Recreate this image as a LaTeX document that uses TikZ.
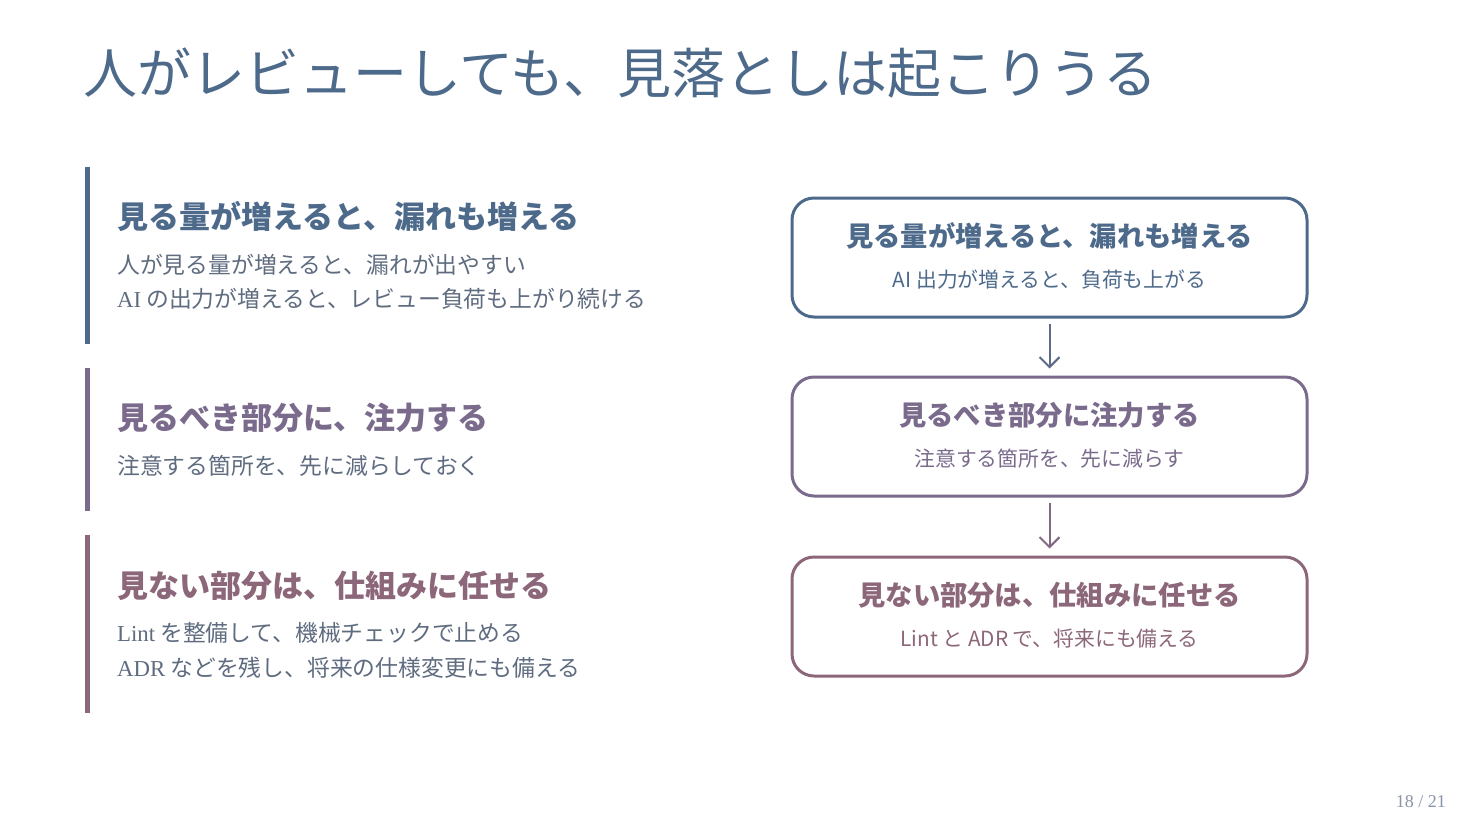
\documentclass[tikz,border=0pt]{standalone}
\usepackage{fontspec}
\newfontfamily\cjk{Noto Sans CJK JP}
\newfontfamily\serif{Liberation Serif}
\definecolor{cblue}{HTML}{4D6A8B}
\definecolor{cpurp}{HTML}{7A6B8C}
\definecolor{cmauv}{HTML}{8C6679}
\definecolor{cbody}{HTML}{5F6C80}
\definecolor{cpage}{HTML}{8A93A8}
\usetikzlibrary{arrows.meta}
\begin{document}
\begin{tikzpicture}[x=1pt,y=-1pt,
  head/.style={anchor=west,inner sep=0pt,font=\cjk\bfseries\fontsize{31}{31}\selectfont},
  body/.style={anchor=west,inner sep=0pt,text=cbody,font=\cjk\fontsize{22.8}{22.8}\selectfont},
  bar/.style={line width=5pt},
  card/.style={draw,line width=3pt,rounded corners=22pt,minimum width=515pt,minimum height=119pt,inner sep=0pt},
  bhead/.style={inner sep=0pt,font=\cjk\bfseries\fontsize{27.3}{27.3}\selectfont},
  bsub/.style={inner sep=0pt,font=\cjk\fontsize{20.8}{20.8}\selectfont},
  flow/.style={line width=2pt,-{Straight Barb[length=10pt,width=20pt,line width=2pt]}}]
\useasboundingbox (0,0) rectangle (1470,828);
\fill[white] (0,0) rectangle (1470,828);
% title
\node[anchor=west,inner sep=0pt,text=cblue,font=\cjk\fontsize{54}{54}\selectfont] (title) at (83,73) {人がレビューしても、見落としは起こりうる};
% left column
\coordinate (b1t) at (87,167); \coordinate (b1b) at (87,344);
\draw[bar,cblue] (b1t) -- (b1b);
\node[head,text=cblue] (h1) at (117,216) {見る量が増えると、漏れも増える};
\node[body] (t1a) at (117,265) {人が見る量が増えると、漏れが出やすい};
\node[body] (t1b) at (117,299) {{\serif AI} の出力が増えると、レビュー負荷も上がり続ける};
\coordinate (b2t) at (87,368); \coordinate (b2b) at (87,511);
\draw[bar,cpurp] (b2t) -- (b2b);
\node[head,text=cpurp] (h2) at (117,418) {見るべき部分に、注力する};
\node[body] (t2a) at (117,466) {注意する箇所を、先に減らしておく};
\coordinate (b3t) at (87,535); \coordinate (b3b) at (87,713);
\draw[bar,cmauv] (b3t) -- (b3b);
\node[head,text=cmauv] (h3) at (117,586) {見ない部分は、仕組みに任せる};
\node[body] (t3a) at (117,633) {{\serif Lint} を整備して、機械チェックで止める};
\node[body] (t3b) at (117,668) {{\serif ADR} などを残し、将来の仕様変更にも備える};
% right column
\node[card,draw=cblue] (c1) at (1049.5,257.5) {};
\node[bhead,text=cblue] (c1h) at (1049.5,236) {見る量が増えると、漏れも増える};
\node[bsub,text=cblue] (c1s) at (1049.5,280) {AI 出力が増えると、負荷も上がる};
\node[card,draw=cpurp] (c2) at (1049.5,436.5) {};
\node[bhead,text=cpurp] (c2h) at (1049.5,415) {見るべき部分に注力する};
\node[bsub,text=cpurp] (c2s) at (1049.5,459) {注意する箇所を、先に減らす};
\node[card,draw=cmauv] (c3) at (1049.5,616.5) {};
\node[bhead,text=cmauv] (c3h) at (1049.5,595) {見ない部分は、仕組みに任せる};
\node[bsub,text=cmauv] (c3s) at (1049.5,639) {Lint と ADR で、将来にも備える};
\draw[flow,cblue!60!cpurp] ([yshift=-5pt]c1.south) -- ([yshift=7pt]c2.north);
\draw[flow,cpurp!60!cmauv] ([yshift=-5pt]c2.south) -- ([yshift=7pt]c3.north);
% page number
\node[anchor=east,inner sep=0pt,text=cpage,font=\serif\fontsize{18}{18}\selectfont] (pg) at (1446,802) {18 / 21};
\end{tikzpicture}
\end{document}
